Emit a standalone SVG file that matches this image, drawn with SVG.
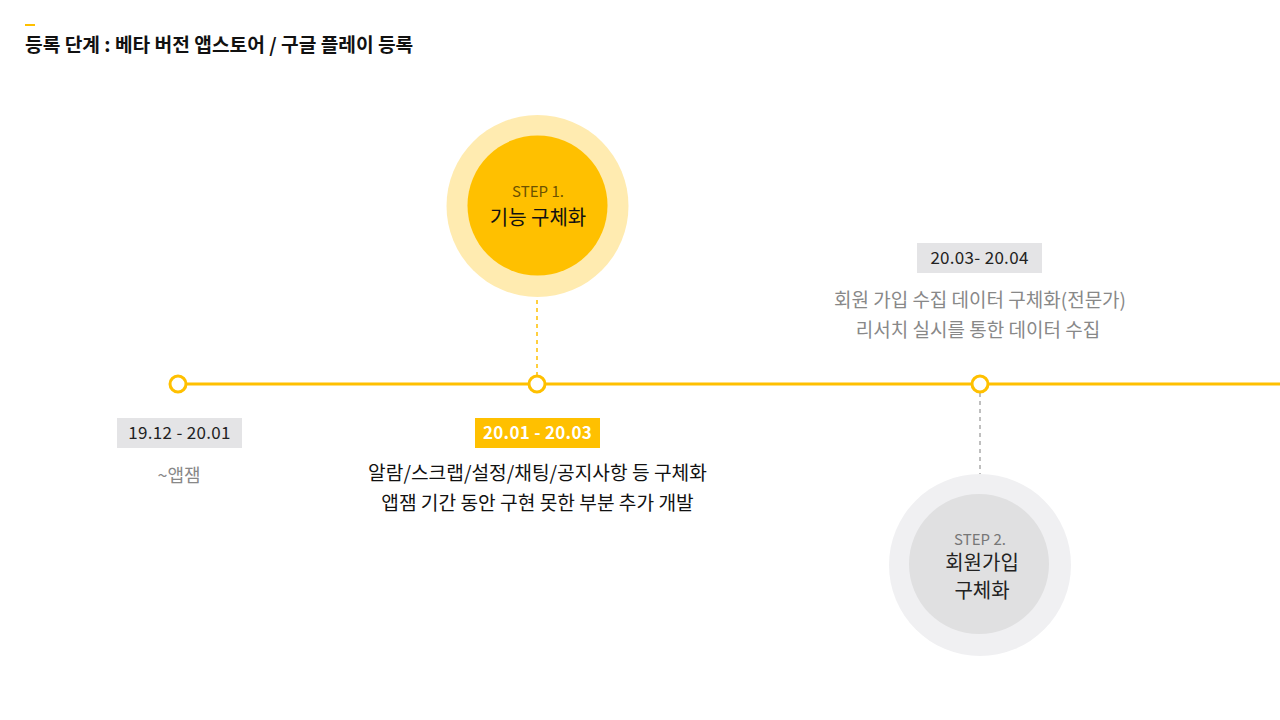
<svg xmlns="http://www.w3.org/2000/svg" width="1280" height="720" viewBox="0 0 1280 720">
<style>
.t{font-family:"Noto Sans CJK KR","Noto Sans",sans-serif;}
.c{text-anchor:middle;}
.node{fill:#fff;stroke:#FFC000;stroke-width:3;}
.d{font-size:17px;letter-spacing:0.3px;}
</style>
<rect width="1280" height="720" fill="#fff"/>
<rect x="25" y="24" width="10" height="2" fill="#FFC000"/>
<text class="t" x="25" y="52" font-size="19.2" font-weight="bold" fill="#111">등록 단계 : 베타 버전 앱스토어 / 구글 플레이 등록</text>
<g id="connectors">
<line x1="178" y1="384" x2="1280" y2="384" stroke="#FFC000" stroke-width="3"/>
<line x1="537" y1="276" x2="537" y2="376" stroke="#FFC000" stroke-width="1.5" stroke-dasharray="4,4"/>
<line x1="980" y1="393" x2="980" y2="494" stroke="#aaa" stroke-width="1.5" stroke-dasharray="4,4"/>
</g>
<g id="point1"><circle class="node" cx="178" cy="384" r="8"/></g>
<g id="point2"><circle class="node" cx="537" cy="384" r="8"/></g>
<g id="point3"><circle class="node" cx="980" cy="384" r="8"/></g>
<g id="step1">
<circle cx="537.5" cy="206" r="91" fill="#FFEBB0"/>
<circle cx="537.5" cy="205.5" r="70" fill="#FFC000"/>
<text class="t c" x="538" y="197" font-size="15" fill="#6b5200">STEP 1.</text>
<text class="t c" x="538" y="225" font-size="20" fill="#111">기능 구체화</text>
</g>
<g id="step2">
<circle cx="980" cy="565" r="91" fill="#f0f0f2"/>
<circle cx="979" cy="564" r="70" fill="#e0e0e1"/>
<text class="t c" x="980" y="545" font-size="15" fill="#777">STEP 2.</text>
<text class="t c" x="982" y="570" font-size="20" fill="#222">회원가입</text>
<text class="t c" x="982" y="598" font-size="20" fill="#222">구체화</text>
</g>
<g id="period1">
<rect x="117" y="418" width="125" height="30" fill="#e4e4e6"/>
<text class="t c d" x="179.5" y="439" fill="#222">19.12 - 20.01</text>
<text class="t c" x="179" y="482" font-size="18" fill="#888">~앱잼</text>
</g>
<g id="period2">
<rect x="475" y="418" width="125" height="30" fill="#FFC000"/>
<text class="t c d" x="537.5" y="439" font-weight="bold" fill="#fff">20.01 - 20.03</text>
<text class="t c" x="537.5" y="480" font-size="19.2" fill="#111">알람/스크랩/설정/채팅/공지사항 등 구체화</text>
<text class="t c" x="537.5" y="510" font-size="19.2" fill="#111">앱잼 기간 동안 구현 못한 부분 추가 개발</text>
</g>
<g id="period3">
<rect x="917" y="243" width="125" height="30" fill="#e4e4e6"/>
<text class="t c d" x="979.5" y="264" fill="#222">20.03- 20.04</text>
<text class="t c" x="980" y="307" font-size="19" fill="#888">회원 가입 수집 데이터 구체화(전문가)</text>
<text class="t c" x="978" y="337" font-size="19" fill="#888">리서치 실시를 통한 데이터 수집</text>
</g>
</svg>
